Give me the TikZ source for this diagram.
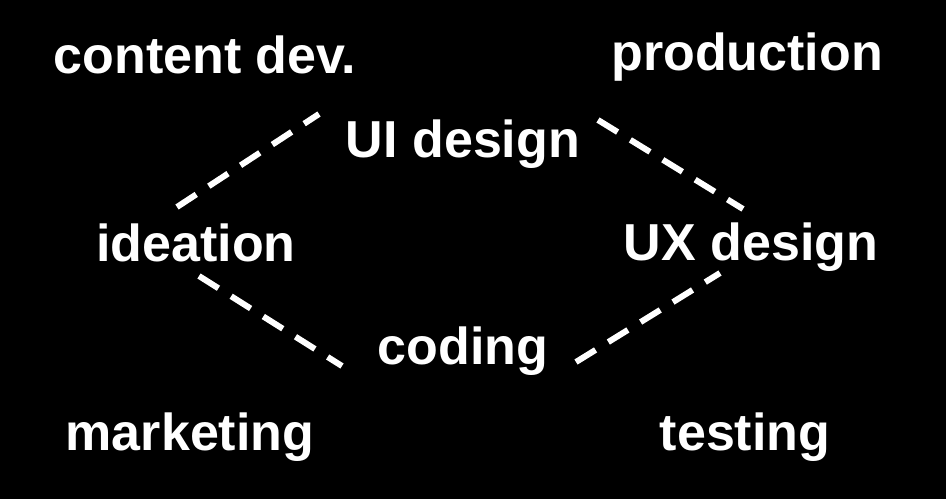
\documentclass[tikz,border=0pt]{standalone}
\usepackage{fontspec}
\setmainfont{Liberation Sans}
\usepackage{xcolor}
\usetikzlibrary{positioning}
\definecolor{SlideBG}  {HTML}{000000}
\definecolor{SlideText}{HTML}{FFFFFF}
\tikzset{
  term/.style={text=SlideText,font=\fontsize{26}{30}\selectfont\bfseries,
               inner sep=0pt,anchor=base},
  link/.style={draw=SlideText,line width=3pt,dash pattern=on 11.5pt off 7.5pt}
}

\begin{document}
\begin{tikzpicture}[x=0.5pt,y=-0.5pt]
  \fill[SlideBG] (0,0) rectangle (946,499);
  \useasboundingbox (0,0) rectangle (946,499);

  % corner labels
  \node[term] (contentdev) at (205,73)  {content dev.};
  \node[term] (production) at (747,70)  {production};
  \node[term] (marketing)  at (190,450) {marketing};
  \node[term] (testing)    at (745,450) {testing};

  % the diamond
  \node[term] (uidesign)  at (463,157) {UI design};
  \node[term] (ideation)  at (196,261) {ideation};
  \node[term] (uxdesign)  at (751,260) {UX design};
  \node[term] (coding)    at (463,364) {coding};

  \coordinate (ideation-up)   at (177,207);
  \coordinate (ideation-down) at (199,276);
  \coordinate (uidesign-left) at (319,114);
  \coordinate (uidesign-right)at (598,120);
  \coordinate (uxdesign-up)   at (743,209);
  \coordinate (uxdesign-down) at (720,273);
  \coordinate (coding-left)   at (342,366);
  \coordinate (coding-right)  at (576,362);

  \draw[link] (ideation-up)    -- (uidesign-left);
  \draw[link] (uidesign-right) -- (uxdesign-up);
  \draw[link] (ideation-down)  -- (coding-left);
  \draw[link] (coding-right)   -- (uxdesign-down);
\end{tikzpicture}
\end{document}
